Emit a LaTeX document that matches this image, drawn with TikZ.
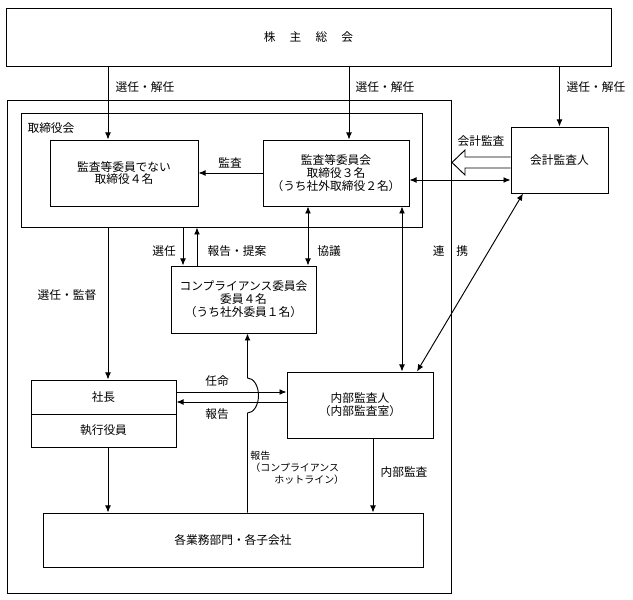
\documentclass[tikz,border=0pt]{standalone}
\usepackage{fontspec}
\setmainfont{Noto Sans CJK JP}
\usetikzlibrary{arrows.meta}

\begin{document}
\begin{tikzpicture}[x=0.03cm, y=-0.03cm, >={Latex[length=6pt,width=5pt]},
    line width=0.8pt,
    every node/.style={font=\fontsize{10}{11}\selectfont},
    box/.style={draw, align=center, inner sep=0pt},
    lbl/.style={inner sep=0pt, align=center},
    small/.style={font=\fontsize{8.5}{10}\selectfont}
    ]
\useasboundingbox (0,0) rectangle (633,600);
% boxes
\node[box, minimum width=18.15cm, minimum height=1.74cm] (kabu) at (308.5,37) {株\hspace{1.2em}主\hspace{1.2em}総\hspace{1.2em}会};
\node[box, minimum width=13.32cm, minimum height=14.79cm] (shanai) at (229,346.5) {};
\node[box, minimum width=12.03cm, minimum height=3.42cm] (tori) at (221.5,170) {};
\node[lbl] (torilbl) at (51,128) {取締役会};
\node[box, minimum width=4.44cm, minimum height=1.98cm] (hikansa) at (124,173) {監査等委員でない\\取締役４名};
\node[box, minimum width=4.38cm, minimum height=1.98cm] (kansaiin) at (336,173) {監査等委員会\\取締役３名\\（うち社外取締役２名）};
\node[box, minimum width=2.91cm, minimum height=1.98cm] (kaikei) at (559.5,160) {会計監査人};
\node[box, minimum width=4.35cm, minimum height=2.01cm] (comp) at (243.5,299.5) {コンプライアンス委員会\\委員４名\\（うち社外委員１名）};
\node[box, minimum width=4.35cm, minimum height=1.02cm] (shacho) at (103.5,397) {社長};
\node[box, minimum width=4.35cm, minimum height=0.99cm] (shikko) at (103.5,430.5) {執行役員};
\node[box, minimum width=4.38cm, minimum height=1.98cm] (naibu) at (360,405) {内部監査人\\（内部監査室）};
\node[box, minimum width=11.4cm, minimum height=1.62cm] (gyomu) at (233,540) {各業務部門・各子会社};

% shareholders
\draw[->] (108,0 |- kabu.south) -- (108,0 |- hikansa.north);
\draw[->] (349,0 |- kabu.south) -- (349,0 |- kansaiin.north);
\draw[->] (kabu.south -| kaikei.north) -- (kaikei.north);
\node[lbl] (sen1) at (145,87) {選任・解任};
\node[lbl] (sen2) at (385,87) {選任・解任};
\node[lbl] (sen3) at (596,87) {選任・解任};

% board
\draw[->] (kansaiin.west) -- (hikansa.east);
\node[lbl] (kansa) at (230,163) {監査};
\draw (kaikei.west |- 0,157) -- (465,157) -- (465,150) -- (452,162.5)
  -- (465,175) -- (465,168) -- (kaikei.west |- 0,168);
\node[lbl] (kaikeilbl) at (481,141) {会計監査};
\draw[<->] (kansaiin.east |- 0,180) -- (kaikei.west |- 0,180);

% compliance
\draw[->] (183,0 |- tori.south) -- (183,0 |- comp.north);
\draw[->] (197,0 |- comp.north) -- (197,0 |- tori.south);
\draw[<->] (308,0 |- kansaiin.south) -- (308,0 |- comp.north);
\node[lbl] (senlbl) at (164,251) {選任};
\node[lbl] (hokoku1) at (237,251) {報告・提案};
\node[lbl] (kyogi) at (329,251) {協議};

% internal audit
\draw[<->] (402,0 |- kansaiin.south) -- (402,0 |- naibu.north);
\draw[<->] (523,0 |- kaikei.south) -- (417,0 |- naibu.north);
\node[lbl] (renkei) at (450.5,251) {連　携};

% president
\draw[->] (108,0 |- tori.south) -- (108,0 |- shacho.north);
\node[lbl] (senkan) at (67,295) {選任・監督};
\draw[->] (shacho.east |- 0,392) -- (naibu.west |- 0,392);
\draw[->] (naibu.west |- 0,402) -- (shacho.east |- 0,402);
\node[lbl] (ninmei) at (217,381) {任命};
\node[lbl] (hokoku2) at (217,414) {報告};

% hotline
\draw[->] (247.5,0 |- gyomu.north) -- (247.5,413)
  arc[start angle=-90, end angle=90, x radius=0.33cm, y radius=0.525cm]
  -- (247.5,0 |- comp.south);
\node[lbl, small, align=left, anchor=north west] (hotline) at (250,451)
  {報告\\（コンプライアンス\\\hspace{0.72cm}ホットライン）};

\draw[->] (108,0 |- shikko.south) -- (108,0 |- gyomu.north);
\draw[->] (373,0 |- naibu.south) -- (373,0 |- gyomu.north);
\node[lbl] (naibulbl) at (404,472) {内部監査};
\end{tikzpicture}
\end{document}
